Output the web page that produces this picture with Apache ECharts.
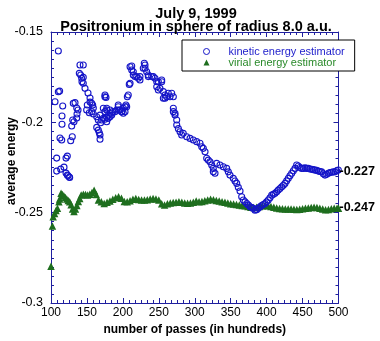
<!DOCTYPE html>
<html>
<head>
<meta charset="utf-8">
<script src="https://cdn.jsdelivr.net/npm/echarts@6/dist/echarts.min.js"></script>
<style>
html,body{margin:0;padding:0;background:#fff;}
#chart{width:380px;height:341px;}
</style>
</head>
<body>
<div id="chart"></div>
<script>
// ---- data ----
var titleLines = ['July 9, 1999', 'Positronium in sphere of radius 8.0 a.u.'];
var xTitle = 'number of passes (in hundreds)';
var yTitle = 'average energy';
var seriesNames = ['kinetic energy estimator', 'virial energy estimator'];
var xTicks = [100, 150, 200, 250, 300, 350, 400, 450, 500];
var yTicks = [-0.3, -0.25, -0.2, -0.15];
var annotationValues = [-0.227, -0.247];

var kineticPasses = [105.6,107.9,107.9,110.2,110.2,112.0,112.5,113.5,114.9,115.3,115.3,116.3,118.1,120.9,120.9,122.7,122.7,123.7,126.0,125.5,
127.4,128.8,129.6,130.2,131.0,132.0,133.4,135.8,135.8,136.2,137.6,139.4,140.3,141.3,142.7,143.1,144.9,144.9,144.9,147.3,
149.6,150.5,151.5,153.3,154.3,154.3,156.6,156.6,158.0,158.9,158.9,163.6,163.6,165.8,165.8,167.2,168.2,168.2,168.2,169.1,
170.5,172.8,172.8,175.0,175.1,175.1,175.1,176.5,177.5,177.5,180.0,182.1,184.5,185.8,189.0,191.4,193.6,193.6,196.0,198.4,
200.6,200.6,203.0,204.3,205.3,206.2,207.5,208.9,210.0,210.0,212.3,212.3,214.5,214.5,216.9,219.2,221.5,223.8,223.8,228.4,
229.8,230.8,230.8,233.1,235.4,235.4,240.1,242.3,244.7,247.1,247.1,249.3,249.3,251.6,254.0,254.0,256.3,256.3,258.6,258.6,
261.0,263.2,265.6,267.9,270.2,270.2,270.2,272.5,272.5,274.9,274.9,277.2,279.5,281.8,284.0,288.8,293.4,298.0,302.7,307.3,
309.7,311.9,314.3,316.6,318.8,321.2,323.6,325.8,325.8,328.2,330.5,335.1,339.7,344.4,346.7,349.0,353.6,356.0,358.4,360.6,
363.0,365.3,367.6,370.0,372.3,374.6,376.9,379.2,381.5,383.8,386.1,388.5,390.8,393.1,395.4,397.7,400.0,402.3,404.7,407.1,
409.4,411.7,414.0,416.2,418.6,421.0,423.3,425.6,427.9,430.2,432.5,434.9,437.2,439.5,441.8,444.1,446.4,448.8,451.1,453.4,
455.7,458.0,460.3,462.7,465.0,467.3,469.6,472.0,474.3,476.6,478.9,481.2,483.5,485.8,488.1,490.4,492.8,495.1,497.4,499.7,
177.5,182.1,184.4,179.7,177.5,194.6,198.3,203.0];

var kineticEnergy = [-0.1886,-0.2198,-0.2270,-0.1605,-0.1831,-0.1827,-0.2087,-0.2259,-0.2098,-0.1965,-0.2011,-0.1910,-0.2248,-0.2198,-0.2281,-0.2187,-0.2292,-0.2296,-0.2305,-0.2303,
-0.2102,-0.2020,-0.2080,-0.1987,-0.1895,-0.1997,-0.1891,-0.1921,-0.1976,-0.1954,-0.1932,-0.1729,-0.1683,-0.1738,-0.1756,-0.1775,-0.1683,-0.1751,-0.1784,-0.1812,
-0.1932,-0.1904,-0.1838,-0.1947,-0.1865,-0.1888,-0.1895,-0.1941,-0.1904,-0.1921,-0.1954,-0.1969,-0.2028,-0.1987,-0.2043,-0.2058,-0.1960,-0.2070,-0.2094,-0.2002,
-0.1987,-0.1922,-0.1978,-0.1858,-0.1849,-0.1941,-0.1983,-0.1862,-0.1932,-0.1972,-0.1960,-0.1969,-0.1960,-0.1941,-0.1941,-0.1932,-0.1904,-0.1914,-0.1932,-0.1941,
-0.1922,-0.1950,-0.1914,-0.1904,-0.1914,-0.1858,-0.1849,-0.1790,-0.1692,-0.1784,-0.1688,-0.1710,-0.1720,-0.1738,-0.1747,-0.1747,-0.1756,-0.1747,-0.1766,-0.1701,
-0.1673,-0.1683,-0.1701,-0.1720,-0.1738,-0.1747,-0.1747,-0.1747,-0.1756,-0.1775,-0.1803,-0.1775,-0.1821,-0.1812,-0.1766,-0.1775,-0.1830,-0.1867,-0.1849,-0.1867,
-0.1858,-0.1839,-0.1858,-0.1839,-0.1858,-0.1922,-0.1941,-0.1950,-0.1960,-0.1987,-0.2015,-0.2035,-0.2052,-0.2070,-0.2061,-0.2080,-0.2089,-0.2098,-0.2107,-0.2116,
-0.2135,-0.2144,-0.2163,-0.2199,-0.2209,-0.2218,-0.2236,-0.2255,-0.2274,-0.2282,-0.2227,-0.2236,-0.2246,-0.2255,-0.2274,-0.2292,-0.2310,-0.2325,-0.2338,-0.2360,
-0.2380,-0.2412,-0.2430,-0.2440,-0.2449,-0.2458,-0.2467,-0.2472,-0.2476,-0.2486,-0.2484,-0.2476,-0.2467,-0.2460,-0.2455,-0.2449,-0.2440,-0.2430,-0.2418,-0.2403,
-0.2398,-0.2393,-0.2384,-0.2375,-0.2366,-0.2357,-0.2348,-0.2338,-0.2324,-0.2310,-0.2296,-0.2282,-0.2268,-0.2255,-0.2236,-0.2242,-0.2250,-0.2255,-0.2255,-0.2252,
-0.2255,-0.2255,-0.2258,-0.2260,-0.2262,-0.2264,-0.2266,-0.2270,-0.2272,-0.2274,-0.2285,-0.2292,-0.2288,-0.2282,-0.2278,-0.2276,-0.2274,-0.2274,-0.2268,-0.2264,
-0.1922,-0.1932,-0.1950,-0.1978,-0.1997,-0.1932,-0.1941,-0.1941];

var virialPasses = [100,102,103,105,107,109,111,112,114,116,118,120,122,124,126,128,130,132,134,136,
138,140,142,145,148,151,154,157,160,163,166,170,174,178,182,186,190,194,198,202,
206,210,214,218,222,226,230,234,238,242,246,250,254,258,262,266,270,274,278,282,
286,290,294,298,302,306,310,314,318,322,326,330,334,338,342,346,350,354,358,362,
366,370,374,378,382,386,390,394,398,402,406,410,414,418,422,426,430,434,438,442,
446,450,454,458,462,466,470,474,478,482,486,490,494,498,500];

var virialEnergy = [-0.2796,-0.2574,-0.2523,-0.2504,-0.2488,-0.2476,-0.2440,-0.2425,-0.2393,-0.2400,-0.2408,-0.2416,-0.2424,-0.2432,-0.2440,-0.2456,-0.2480,-0.2493,-0.2480,-0.2460,
-0.2438,-0.2421,-0.2402,-0.2398,-0.2400,-0.2402,-0.2398,-0.2388,-0.2376,-0.2400,-0.2430,-0.2440,-0.2449,-0.2442,-0.2435,-0.2426,-0.2418,-0.2412,-0.2420,-0.2438,
-0.2440,-0.2434,-0.2426,-0.2422,-0.2427,-0.2430,-0.2430,-0.2428,-0.2425,-0.2422,-0.2424,-0.2430,-0.2450,-0.2458,-0.2450,-0.2446,-0.2444,-0.2442,-0.2440,-0.2442,
-0.2446,-0.2448,-0.2447,-0.2442,-0.2436,-0.2440,-0.2438,-0.2434,-0.2430,-0.2426,-0.2428,-0.2432,-0.2436,-0.2440,-0.2443,-0.2447,-0.2450,-0.2452,-0.2455,-0.2458,
-0.2460,-0.2462,-0.2466,-0.2470,-0.2472,-0.2470,-0.2466,-0.2462,-0.2460,-0.2462,-0.2466,-0.2470,-0.2474,-0.2477,-0.2478,-0.2480,-0.2480,-0.2480,-0.2481,-0.2482,
-0.2481,-0.2479,-0.2476,-0.2474,-0.2472,-0.2470,-0.2472,-0.2476,-0.2480,-0.2484,-0.2482,-0.2478,-0.2476,-0.2476,-0.2476];

// ---- chart ----
var AXIS = '#1f1f9f';
var BLUE = '#1515c8';
var GREEN = '#1e6e1e';
var FONT = '"Liberation Sans", Arial, Helvetica, sans-serif';

function pairs(xs, ys) { return xs.map(function (x, i) { return [x, ys[i]]; }); }

function xAxisDef(pos, showLabel) {
  return {
    type: 'value', position: pos, min: xTicks[0], max: xTicks[xTicks.length - 1],
    interval: xTicks[1] - xTicks[0],
    name: showLabel ? xTitle : '', nameLocation: 'middle', nameGap: 17,
    nameTextStyle: { fontFamily: FONT, fontSize: 12, fontWeight: 'bold', color: '#000' },
    axisLine: { show: true, onZero: false, lineStyle: { color: AXIS, width: 1 } },
    axisTick: { show: true, inside: true, length: 5, lineStyle: { color: AXIS } },
    minorTick: { show: true, splitNumber: 6, length: 3, lineStyle: { color: AXIS } },
    axisLabel: { show: showLabel, margin: 4, fontFamily: FONT, fontSize: 12, color: '#000' },
    splitLine: { show: false }
  };
}
function yAxisDef(pos, showLabel) {
  return {
    type: 'value', position: pos, min: yTicks[0], max: yTicks[yTicks.length - 1],
    interval: 0.05,
    axisLine: { show: true, onZero: false, lineStyle: { color: AXIS, width: 1 } },
    axisTick: { show: true, inside: true, length: 5, lineStyle: { color: AXIS } },
    minorTick: { show: true, splitNumber: 10, length: 3, lineStyle: { color: AXIS } },
    axisLabel: { show: showLabel, margin: 8, fontFamily: FONT, fontSize: 12.5, color: '#000',
      formatter: function (v) { return String(Math.round(v * 1000) / 1000); } },
    splitLine: { show: false }
  };
}

var chart = echarts.init(document.getElementById('chart'), null, { renderer: 'canvas' });
chart.setOption({
  animation: false,
  backgroundColor: '#fff',
  title: {
    text: titleLines.join('\n'), left: 196, top: 7, padding: 0, textAlign: 'center',
    textStyle: { fontFamily: FONT, fontSize: 14.5, fontWeight: 'bold', color: '#000', lineHeight: 13 }
  },
  graphic: [{
    type: 'text', x: 12, y: 161, rotation: Math.PI / 2, silent: true,
    style: { text: yTitle, fontFamily: FONT, fontSize: 12, fontWeight: 'bold', fill: '#000',
      align: 'center', verticalAlign: 'middle' }
  }],
  grid: { left: 51, right: 41.5, top: 32, bottom: 38, containLabel: false, outerBoundsMode: 'none' },
  legend: {
    orient: 'vertical', left: 182, top: 40, padding: [6, 10, 3, 21], itemGap: 0,
    itemWidth: 6, itemHeight: 6, backgroundColor: '#fff', borderColor: '#000', borderWidth: 1,
    borderRadius: 0, z: 10,
    textStyle: { fontFamily: FONT, fontSize: 11, lineHeight: 10, padding: [0, 0, 0, 14] },
    data: [
      { name: seriesNames[0], icon: 'circle', textStyle: { color: '#2222cc' },
        itemStyle: { color: 'rgba(0,0,0,0)', borderColor: BLUE, borderWidth: 1 } },
      { name: seriesNames[1], icon: 'triangle', textStyle: { color: '#2a8a2a' },
        itemStyle: { color: GREEN, borderWidth: 0 } }
    ]
  },
  xAxis: [xAxisDef('bottom', true), xAxisDef('top', false)],
  yAxis: [yAxisDef('left', true), yAxisDef('right', false)],
  series: [
    {
      name: seriesNames[1], type: 'scatter', xAxisIndex: 0, yAxisIndex: 0,
      symbol: 'triangle', symbolSize: 7.5,
      itemStyle: { color: GREEN, opacity: 1 },
      data: pairs(virialPasses, virialEnergy),
      markLine: {
        silent: true, symbol: 'none', animation: false, precision: 3,
        lineStyle: { color: 'rgba(0,0,0,0)', width: 1, type: 'solid' },
        label: { show: true, position: 'end', distance: 1, fontFamily: FONT, fontSize: 12.5,
          fontWeight: 'bold', color: '#000', opacity: 1, formatter: '{b}' },
        emphasis: { disabled: true },
        data: annotationValues.map(function (v) { return { yAxis: v, name: String(v) }; })
      }
    },
    {
      name: seriesNames[0], type: 'scatter', xAxisIndex: 0, yAxisIndex: 0,
      symbol: 'circle', symbolSize: 6,
      itemStyle: { color: 'rgba(0,0,0,0)', borderColor: BLUE, borderWidth: 1.1, opacity: 1 },
      data: pairs(kineticPasses, kineticEnergy)
    }
  ]
});
</script>
</body>
</html>
